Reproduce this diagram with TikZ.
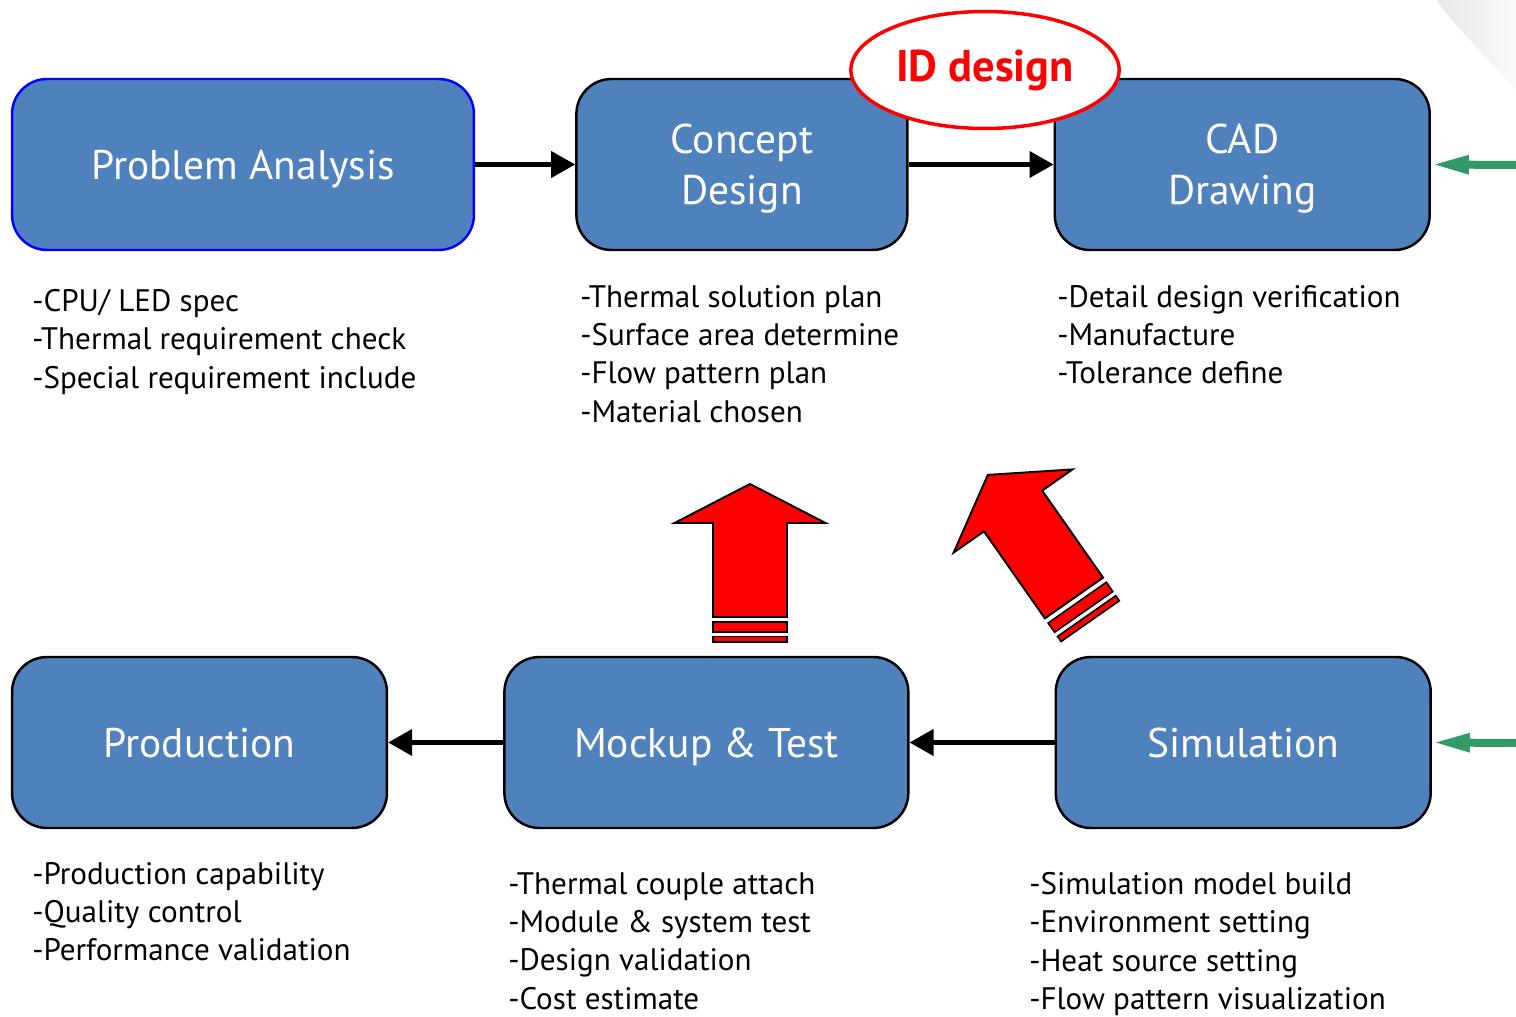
\documentclass[tikz,border=0pt]{standalone}
\usepackage{fontspec}
\setmainfont{PT Sans}
\usetikzlibrary{positioning, arrows.meta, shapes.geometric}
\definecolor{boxblue}{RGB}{79,129,189}
\definecolor{feedgreen}{RGB}{51,153,102}

\tikzset{
  stage/.style={rectangle, rounded corners=0.7cm, draw=black, line width=1.4pt, fill=boxblue,
    text=white, align=center, minimum height=3.42cm, text depth=0pt, font=\fontsize{23.6}{29}\selectfont},
  notes/.style={anchor=north west, inner sep=0pt, align=left, font=\fontsize{17.7}{21.8}\selectfont},
  flow/.style={line width=2.3pt, -{Triangle[length=0.48cm,width=0.52cm]}},
  feed/.style={draw=feedgreen, line width=0.16cm, -{Triangle[length=0.76cm,width=0.34cm]}},
  bigup/.pic={
    \draw[fill=red, line width=1.1pt, line join=miter] (-37,0) -- (-37,-94) -- (-75.5,-94) -- (0,-133)
      -- (75.5,-94) -- (37,-94) -- (37,0) -- cycle;
    \draw[fill=red, line width=0.9pt] (-37,5) rectangle (37,15);
    \draw[fill=red, line width=0.9pt] (-37,19.5) rectangle (37,25);
  }
}

\begin{document}
\begin{tikzpicture}[x=0.02cm, y=-0.02cm]
    \useasboundingbox (0,0) rectangle (1516,1017);
    \shade[left color=gray!18, right color=gray!4] (1437,0) -- (1516,0) -- (1516,90) .. controls (1480,50) and (1445,15) .. cycle;

    % top row
    \node[stage, draw=blue, minimum width=9.24cm] (pa) at (243,164.5) {Problem Analysis};
    \node[stage, minimum width=6.62cm, right=2cm of pa] (cd) {Concept\\Design};
    \node[stage, minimum width=7.5cm, right=2.9cm of cd] (cad) {CAD\\Drawing};

    % bottom row
    \node[stage, minimum width=7.5cm] (prod) at (199.5,742.5) {Production};
    \node[stage, minimum width=8.08cm, right=2.3cm of prod] (mt) {Mockup \& Test};
    \node[stage, minimum width=7.5cm, right=2.9cm of mt] (sim) {Simulation};

    \draw[flow] (pa) -- (cd);
    \draw[flow] (cd) -- (cad);
    \draw[flow] (sim) -- (mt);
    \draw[flow] (mt) -- (prod);

    \coordinate (gtop) at (1516,165);
    \coordinate (gbot) at (1516,743);
    \draw[feed] (gtop) -- (cad.east);
    \draw[feed] (gbot) -- (sim.east);

    \node[ellipse, draw=red, line width=0.07cm, fill=white, minimum width=5.22cm, minimum height=2.34cm,
      text=red, font=\bfseries\fontsize{25.3}{29}\selectfont] (id) at (985,70) {\raisebox{-0.1cm}{ID design}};

    % notes
    \node[notes] (pan) at (32,289) {-CPU/ LED spec\\-Thermal requirement check\\-Special requirement include};
    \node[notes] (cdn) at (580,285) {-Thermal solution plan\\-Surface area determine\\-Flow pattern plan\\-Material chosen};
    \node[notes] (cadn) at (1057,285) {-Detail design verification\\-Manufacture\\-Tolerance define};
    \node[notes] (prodn) at (32,862) {-Production capability\\-Quality control\\-Performance validation};
    \node[notes] (mtn) at (508,872) {-Thermal couple attach\\-Module \& system test\\-Design validation\\-Cost estimate};
    \node[notes] (simn) at (1029,872) {-Simulation model build\\-Environment setting\\-Heat source setting\\-Flow pattern visualization};

    % feedback arrows
    \pic at (750,617) {bigup};
    \pic[rotate=35, xscale=0.96, yscale=1.13] at (1074,598) {bigup};
\end{tikzpicture}
\end{document}
